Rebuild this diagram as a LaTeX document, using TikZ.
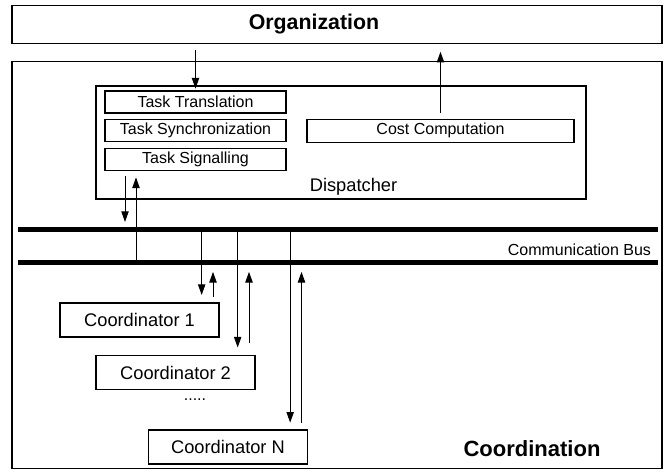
\documentclass[tikz,border=0pt]{standalone}
\usepackage{fontspec}
\setmainfont{Liberation Sans}
\usepackage{tikz}
\usetikzlibrary{arrows.meta, positioning, calc}

\begin{document}
\begin{tikzpicture}[
    x=0.75pt, y=-0.75pt,
    every node/.style={inner sep=0pt, outer sep=0pt},
    frame/.style={draw, line width=0.8pt},
    task/.style={frame, minimum width=135.75pt, minimum height=16.5pt,
                 font=\fontsize{12}{14}\selectfont},
    coordbox/.style={frame, minimum width=119.25pt, minimum height=25.5pt,
                     font=\fontsize{13.7}{16}\selectfont},
    bus/.style={line width=3.75pt},
    arr/.style={-{Triangle[length=8pt, width=5.5pt]}, line width=0.75pt},
    title/.style={font=\fontsize{16}{19}\selectfont\bfseries}
  ]
  \useasboundingbox (0,0) rectangle (667,472);

  % layers
  \node[frame, minimum width=487.5pt, minimum height=29pt] (org) at (337,24.4) {};
  \node[title] (orgtxt) at (314,24.4) {Organization};
  \node[frame, minimum width=487.5pt, minimum height=305.25pt] (coord) at (337,264.7) {};
  \node[title, font=\fontsize{16.5}{19}\selectfont\bfseries, anchor=base] (coordtxt) at (532,456.5) {Coordination};

  % dispatcher
  \node[frame, minimum width=367.5pt, minimum height=84.75pt] (disp) at (341,142.5) {};
  \node[font=\fontsize{13.7}{16}\selectfont, anchor=base] (disptxt) at ($(disp.south)+(12.5,-7.6)$) {Dispatcher};
  \node[task] (trans) at (195.5,102) {Task Translation};
  \node[task, below=5pt of trans] (sync) {Task Synchronization};
  \node[task, below=5pt of sync] (sig) {Task Signalling};
  \node[frame, minimum width=200.25pt, minimum height=17.25pt,
        font=\fontsize{12}{14}\selectfont, right=15.75pt of sync] (cost) {Cost Computation};

  % communication bus
  \coordinate (busTW) at (18,229);
  \coordinate (busTE) at (658,229);
  \coordinate (busBW) at (18,262.5);
  \coordinate (busBE) at (658,262.5);
  \draw[bus] (busTW) -- (busTE);
  \draw[bus] (busBW) -- (busBE);
  \node[font=\fontsize{12}{14}\selectfont, anchor=base east] (bustxt) at (651,255) {Communication Bus};

  % coordinators
  \node[coordbox] (c1) at (139.5,320) {Coordinator 1};
  \node[coordbox] (c2) at (175.5,372.5) {Coordinator 2};
  \node[font=\fontsize{12}{14}\selectfont] (dots) at (195,400) {.....};
  \node[coordbox] (cn) at (228,447) {Coordinator N};

  % organization <-> dispatcher
  \draw[arr] ([yshift=-4.5pt]org.south -| trans.north) -- ([yshift=1.8pt]trans.north);
  \draw[arr] ([yshift=4.7pt]cost.north) -- ([yshift=-6pt]org.south -| cost.north);

  % dispatcher <-> bus
  \draw[arr] ([xshift=15pt,yshift=-4.5pt]sig.south west) -- ([xshift=15pt,yshift=5.25pt]sig.south west |- busTW);
  \draw[arr] ([xshift=23.25pt]sig.south west |- busBW) -- ([xshift=23.25pt,yshift=-5.25pt]sig.south west);

  % bus <-> coordinators
  \draw[arr] ([xshift=-13pt]c1.north east |- busTW) -- ([xshift=-13pt,yshift=6pt]c1.north east);
  \draw[arr] ([xshift=-4.5pt,yshift=4.7pt]c1.north east) -- ([xshift=-4.5pt,yshift=-7pt]c1.north east |- busBW);
  \draw[arr] ([xshift=-13pt]c2.north east |- busTW) -- ([xshift=-13pt,yshift=6pt]c2.north east);
  \draw[arr] ([xshift=-4.5pt,yshift=9.5pt]c2.north east) -- ([xshift=-4.5pt,yshift=-7pt]c2.north east |- busBW);
  \draw[arr] ([xshift=-13pt]cn.north east |- busTW) -- ([xshift=-13pt,yshift=5.5pt]cn.north east);
  \draw[arr] ([xshift=-4.5pt,yshift=5.5pt]cn.north east) -- ([xshift=-4.5pt,yshift=-7pt]cn.north east |- busBW);
\end{tikzpicture}
\end{document}
